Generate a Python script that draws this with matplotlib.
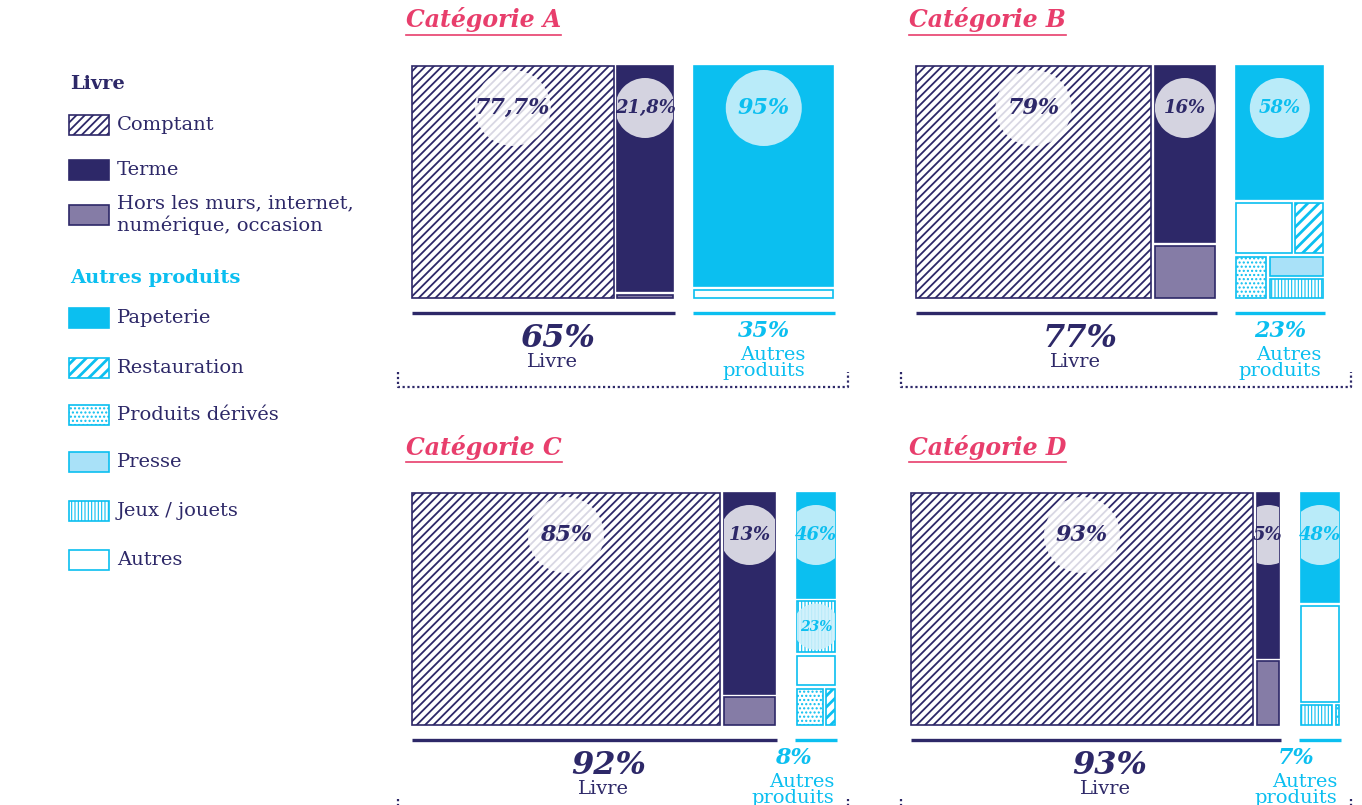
import matplotlib.pyplot as plt
from matplotlib.patches import Rectangle, Circle
import numpy as np

plt.rcParams['font.family'] = ['DejaVu Serif']
plt.rcParams['hatch.linewidth'] = 1.6

# --- data -------------------------------------------------------------
categories = ['Catégorie A', 'Catégorie B', 'Catégorie C', 'Catégorie D']
livre_share = [65, 77, 92, 93]
autres_share = [35, 23, 8, 7]

# Livre breakdown (% of Livre)
comptant = [77.7, 79, 85, 93]
terme = [21.8, 16, 13, 5]
hors_murs = [0.5, 5, 2, 2]

# Autres produits breakdown (% of Autres produits)
papeterie = [95, 58, 46, 48]
restauration = [0, 8, 5, 0]
produits_derives = [0, 7, 12, 1]
presse = [0, 6, 0, 0]
jeux = [0, 6, 23, 9]
autres = [5, 15, 14, 42]

# treemap arrangement of the sub-blocks ('h' = side by side, 'v' = stacked)
livre_tree = ('h', ['comptant', ('v', ['terme', 'hors'])])
autres_trees = [
    ('v', ['papeterie', 'autres']),
    ('v', ['papeterie', ('h', ['autres', 'restauration']),
           ('h', ['produits_derives', ('v', ['presse', 'jeux'])])]),
    ('v', ['papeterie', 'jeux', 'autres', ('h', ['produits_derives', 'restauration'])]),
    ('v', ['papeterie', 'autres', ('h', ['jeux', 'produits_derives'])]),
]

# --- style ------------------------------------------------------------
NAVY = '#2d2868'
MAUVE = '#857ca6'
CYAN = '#0bbff0'
PRESSE = '#a9e1f8'
PINK = '#e83e6c'

STYLE = {
    'comptant': dict(facecolor='white', edgecolor=NAVY, hatch='////'),
    'terme': dict(facecolor=NAVY, edgecolor=NAVY),
    'hors': dict(facecolor=MAUVE, edgecolor=NAVY),
    'papeterie': dict(facecolor=CYAN, edgecolor=CYAN),
    'restauration': dict(facecolor='white', edgecolor=CYAN, hatch='///'),
    'produits_derives': dict(facecolor='white', edgecolor=CYAN, hatch='....'),
    'presse': dict(facecolor=PRESSE, edgecolor=CYAN),
    'jeux': dict(facecolor='white', edgecolor=CYAN, hatch='|||||'),
    'autres': dict(facecolor='white', edgecolor=CYAN),
}
HATCH_LW = {'comptant': 1.3, 'restauration': 2.0, 'produits_derives': 1.0, 'jeux': 0.8}

# panel frames in pixels (figure is 1362 x 805, y downwards)
panel_x0 = [398, 901, 398, 901]
panel_y0 = [0, 0, 427, 427]
block_left = [410, 914, 410, 909]
block_width = [425, 411, 427, 432]
BLOCK_TOP, BLOCK_H, GROUP_GAP, MIN_AUTRES_W = 64, 236, 18, 42


def split_sizes(vals, length, min_px=7):
    vals = np.array(vals, float)
    sizes = vals / vals.sum() * length
    small = sizes < min_px
    if small.any() and not small.all():
        sizes[small] = min_px
        rest = length - min_px * small.sum()
        sizes[~small] = vals[~small] / vals[~small].sum() * rest
    return sizes


def node_value(node, values):
    if isinstance(node, str):
        return values[node]
    return sum(node_value(c, values) for c in node[1])


def layout(node, values, x, y, w, h, out):
    if isinstance(node, str):
        out.append((node, x, y, w, h))
        return
    direction, children = node
    children = [c for c in children if node_value(c, values) > 0]
    sizes = split_sizes([node_value(c, values) for c in children],
                        w if direction == 'h' else h)
    pos = 0
    for c, s in zip(children, sizes):
        if direction == 'h':
            layout(c, values, x + pos, y, s, h, out)
        else:
            layout(c, values, x, y + pos, w, s, out)
        pos += s


def fmt_pct(v):
    return f'{v:g}'.replace('.', ',') + '%'


def make_rect(key, x, y, w, h):
    with plt.rc_context({'hatch.linewidth': HATCH_LW.get(key, 1.6)}):
        rect = Rectangle((x, y), w, h, lw=1.2, **STYLE[key])
    if hasattr(rect, 'set_hatch_linewidth'):
        rect.set_hatch_linewidth(HATCH_LW.get(key, 1.6))
    return rect


def draw_cell(ax, key, x, y, w, h, value):
    g = 1.8
    rect = make_rect(key, x + g, y + g, w - 2 * g, h - 2 * g)
    ax.add_patch(rect)
    labelled = key in ('comptant', 'terme', 'papeterie') or (key != 'autres' and value >= 20)
    if not labelled:
        return
    cx = x + w / 2
    cy = y + min(44, h / 2)
    if w >= 100:
        r, fs = 38, 16
    else:
        r = min(30, max(20, h / 2 - 4))
        fs = 13 if h >= 60 else 10
    if key == 'comptant':
        circ_kw = dict(facecolor='white', alpha=0.82)
    elif key in ('terme', 'hors'):
        circ_kw = dict(facecolor='#d4d3e0')
    else:
        circ_kw = dict(facecolor='#cdf0fb', alpha=0.9)
    circ = Circle((cx, cy), r, lw=0, **circ_kw)
    ax.add_patch(circ)
    circ.set_clip_path(rect)
    color = NAVY if key in ('comptant', 'terme', 'hors') else CYAN
    ax.text(cx, cy, fmt_pct(value), ha='center', va='center', fontsize=fs,
            fontweight='bold', style='italic', color=color)


fig = plt.figure(figsize=(13.62, 8.05), dpi=100)
ax = fig.add_axes([0, 0, 1, 1])
ax.set_xlim(0, 1362)
ax.set_ylim(805, 0)
ax.axis('off')

titles = []
for i, cat in enumerate(categories):
    x0, y0 = panel_x0[i], panel_y0[i]
    top = BLOCK_TOP + y0
    bottom = top + BLOCK_H
    avail = block_width[i] - GROUP_GAP
    w_aut = max(avail * autres_share[i] / (livre_share[i] + autres_share[i]), MIN_AUTRES_W)
    w_liv = avail - w_aut
    xl = block_left[i]
    xa = xl + w_liv + GROUP_GAP

    livre_vals = {'comptant': comptant[i], 'terme': terme[i], 'hors': hors_murs[i]}
    autres_vals = {'papeterie': papeterie[i], 'restauration': restauration[i],
                   'produits_derives': produits_derives[i], 'presse': presse[i],
                   'jeux': jeux[i], 'autres': autres[i]}
    cells = []
    layout(livre_tree, livre_vals, xl, top, w_liv, BLOCK_H, cells)
    for key, x, y, w, h in cells:
        draw_cell(ax, key, x, y, w, h, livre_vals[key])
    cells = []
    layout(autres_trees[i], autres_vals, xa, top, w_aut, BLOCK_H, cells)
    for key, x, y, w, h in cells:
        draw_cell(ax, key, x, y, w, h, autres_vals[key])

    # group rules and totals
    ax.plot([xl + 2, xl + w_liv], [bottom + 13] * 2, color=NAVY, lw=2.4, solid_capstyle='butt')
    ax.plot([xa, xa + w_aut], [bottom + 13] * 2, color=CYAN, lw=2.4, solid_capstyle='butt')
    cl = xl + w_liv / 2 + 15
    ax.text(cl, bottom + 38, f'{livre_share[i]}%', ha='center', va='center',
            fontsize=23, fontweight='bold', style='italic', color=NAVY)
    ax.text(cl - 5, bottom + 62, 'Livre', ha='center', va='center', fontsize=14, color=NAVY)
    ca = min(xa + w_aut / 2, x0 + 450 - 55)
    ax.text(ca, bottom + 31, f'{autres_share[i]}%', ha='center', va='center',
            fontsize=16, fontweight='bold', style='italic', color=CYAN)
    ax.text(ca, bottom + 63, 'Autres\nproduits', ha='center', va='center',
            multialignment='right', fontsize=14, color=CYAN, linespacing=0.85)

    # dotted bracket
    yb = y0 + 387
    ax.plot([x0, x0, x0 + 450, x0 + 450], [yb - 15, yb, yb, yb - 15],
            ls=(0, (1, 1.2)), color=NAVY, lw=1.6)

    t = ax.text(x0 + 8, y0 + 20, cat, ha='left', va='center', fontsize=17,
                fontweight='bold', style='italic', color=PINK)
    titles.append((t, y0 + 35))

# legend
ax.text(70, 84, 'Livre', ha='left', va='center', fontsize=14, fontweight='bold', color=NAVY)
ax.text(70, 278, 'Autres produits', ha='left', va='center', fontsize=14,
        fontweight='bold', color=CYAN)
legend_items = [
    ('comptant', 'Comptant', 125),
    ('terme', 'Terme', 170),
    ('hors', 'Hors les murs, internet,\nnumérique, occasion', 215),
    ('papeterie', 'Papeterie', 318),
    ('restauration', 'Restauration', 368),
    ('produits_derives', 'Produits dérivés', 415),
    ('presse', 'Presse', 462),
    ('jeux', 'Jeux / jouets', 511),
    ('autres', 'Autres', 560),
]
for key, label, yc in legend_items:
    ax.add_patch(make_rect(key, 69, yc - 10, 40, 20))
    ax.text(117, yc, label, ha='left', va='center', fontsize=14, color=NAVY)

# underline titles
fig.canvas.draw()
renderer = fig.canvas.get_renderer()
inv = ax.transData.inverted()
for t, yu in titles:
    bb = t.get_window_extent(renderer)
    xa_, _ = inv.transform((bb.x0, bb.y0))
    xb_, _ = inv.transform((bb.x1, bb.y0))
    ax.plot([xa_, xb_], [yu, yu], color=PINK, lw=1.2)

fig.savefig('out.png', dpi=100)
